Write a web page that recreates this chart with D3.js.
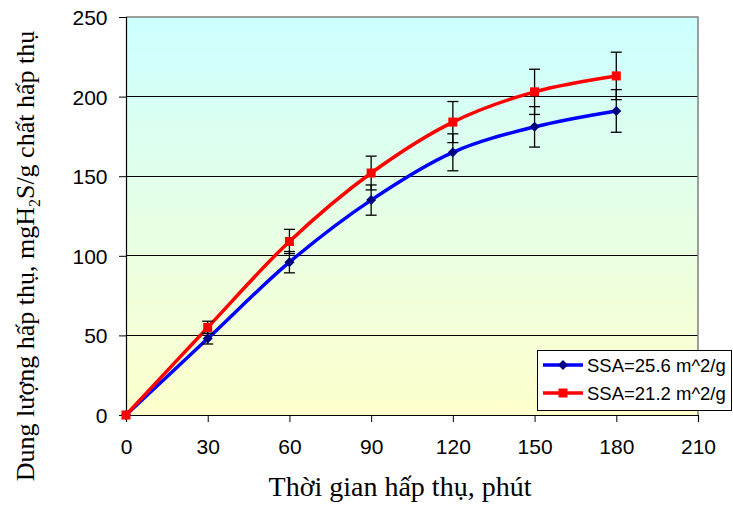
<!DOCTYPE html>
<html>
<head>
<meta charset="utf-8">
<script src="https://cdn.jsdelivr.net/npm/d3@7"></script>
<style>
body { margin: 0; background: #fff; }
svg { display: block; }
</style>
</head>
<body>
<svg width="733" height="506"></svg>
<script>
'use strict';
// data
let aTime = [0, 30, 60, 90, 120, 150, 180]
let aBlue = [0, 48, 96, 135, 165, 181, 191]
let aRed = [0, 55, 109, 152, 184, 203, 213]
let aBlueErr = [0, 3.4, 6.7, 9.5, 11.6, 12.7, 13.4]
let aRedErr = [0, 3.9, 7.6, 10.6, 12.9, 14.2, 14.9]
let aXTicks = [0, 30, 60, 90, 120, 150, 180, 210]
let aYTicks = [0, 50, 100, 150, 200, 250]
let aNames = ["SSA=25.6 m^2/g", "SSA=21.2 m^2/g"]

let eSvg = d3.select("svg")
let dL = 126, dR = 698, dT = 17, dB = 415

let x = d3.scaleLinear().domain([0, 210]).range([dL, dR])
let y = d3.scaleLinear().domain([0, 250]).range([dB, dT])

// background gradient
let grad = eSvg.append("defs").append("linearGradient")
	.attr("id", "bg").attr("x1", 0).attr("y1", 0).attr("x2", 0).attr("y2", 1)
grad.append("stop").attr("offset", "0%").attr("stop-color", "#CCFFFF")
grad.append("stop").attr("offset", "100%").attr("stop-color", "#FFFFCC")

eSvg.append("rect")
	.attr("x", dL).attr("y", dT).attr("width", dR - dL).attr("height", dB - dT)
	.attr("fill", "url(#bg)")

// gridlines
eSvg.append("g").selectAll("line")
	.data(aYTicks.slice(1, -1))
	.enter().append("line")
	.attr("x1", dL).attr("x2", dR)
	.attr("y1", d => y(d)).attr("y2", d => y(d))
	.attr("stroke", "#000").attr("stroke-width", 1)
	.attr("shape-rendering", "crispEdges")

// grey frame top/right
eSvg.append("path")
	.attr("d", `M${dL},${dT}H${dR}V${dB}`)
	.attr("fill", "none").attr("stroke", "#808080").attr("stroke-width", 1.5)

// axes
let gx = eSvg.append("g").attr("transform", `translate(0,${dB})`)
	.call(d3.axisBottom(x).tickValues(aXTicks).tickSize(7).tickPadding(17))
let gy = eSvg.append("g").attr("transform", `translate(${dL},0)`)
	.call(d3.axisLeft(y).tickValues(aYTicks).tickSize(7).tickPadding(11.5))
for (let g of [gx, gy]) {
	g.selectAll("text").attr("font-family", "Liberation Sans, Arial, sans-serif")
		.attr("font-size", 21).attr("fill", "#000")
	g.selectAll("line, path").attr("stroke", "#000")
	g.select(".domain").attr("stroke-width", 1.2)
}
gy.selectAll("text").attr("dy", "0.36em")
gx.selectAll("text").attr("dy", "0.71em")

// lines
let line = d3.line().x((d, i) => x(aTime[i])).y(d => y(d)).curve(d3.curveCatmullRom.alpha(0.5))
let aSeries = [
	{vals: aBlue, err: aBlueErr, col: "#0000FF", mark: "#000080", shape: "diamond"},
	{vals: aRed, err: aRedErr, col: "#FF0000", mark: "#FF0000", shape: "square"}]

aSeries.forEach(s => {
	eSvg.append("path").attr("d", line(s.vals))
		.attr("fill", "none").attr("stroke", s.col).attr("stroke-width", 3.5)
		.attr("stroke-linejoin", "round")
})

// error bars
aSeries.forEach(s => {
	let g = eSvg.append("g").attr("stroke", "#000").attr("stroke-width", 1.3)
	s.vals.forEach((v, i) => {
		if (!s.err[i]) return
		let cx = x(aTime[i]), y0 = y(v - s.err[i]), y1 = y(v + s.err[i])
		g.append("line").attr("x1", cx).attr("x2", cx).attr("y1", y0).attr("y2", y1)
		g.append("line").attr("x1", cx - 5.5).attr("x2", cx + 5.5).attr("y1", y0).attr("y2", y0)
		g.append("line").attr("x1", cx - 5.5).attr("x2", cx + 5.5).attr("y1", y1).attr("y2", y1)
	})
})

// markers
function marker(g, shape, col, cx, cy) {
	if (shape === "square")
		g.append("rect").attr("x", cx - 4.5).attr("y", cy - 4.5).attr("width", 9).attr("height", 9).attr("fill", col)
	else
		g.append("path").attr("d", `M${cx},${cy - 5}L${cx + 5},${cy}L${cx},${cy + 5}L${cx - 5},${cy}Z`).attr("fill", col)
}
aSeries.forEach(s => {
	let g = eSvg.append("g")
	s.vals.forEach((v, i) => marker(g, s.shape, s.mark, x(aTime[i]), y(v)))
})

// legend
let eLeg = eSvg.append("g")
eLeg.append("rect").attr("x", 537.5).attr("y", 350.5).attr("width", 194).attr("height", 60)
	.attr("fill", "#fff").attr("stroke", "#000").attr("stroke-width", 1)
aSeries.forEach((s, i) => {
	let ly = 365 + i * 28
	eLeg.append("line").attr("x1", 543).attr("x2", 583).attr("y1", ly).attr("y2", ly)
		.attr("stroke", s.col).attr("stroke-width", 3.5)
	marker(eLeg, s.shape, s.mark, 563, ly)
	eLeg.append("text").attr("x", 587).attr("y", ly).attr("dy", "0.36em")
		.attr("font-family", "Liberation Sans, Arial, sans-serif").attr("font-size", 18.5)
		.text(aNames[i])
})

// axis titles
eSvg.append("text").attr("x", 400).attr("y", 496)
	.attr("text-anchor", "middle")
	.attr("font-family", "Liberation Serif, Times New Roman, serif").attr("font-size", 28)
	.text("Thời gian hấp thụ, phút")

let yt = eSvg.append("text").attr("transform", `translate(34,256) rotate(-90)`)
	.attr("text-anchor", "middle")
	.attr("font-family", "Liberation Serif, Times New Roman, serif").attr("font-size", 26)
yt.append("tspan").text("Dung lượng hấp thụ, mgH")
yt.append("tspan").attr("font-size", 16).attr("dy", 6).text("2")
yt.append("tspan").attr("dy", -6).text("S/g chất hấp thụ")
</script>
</body>
</html>
